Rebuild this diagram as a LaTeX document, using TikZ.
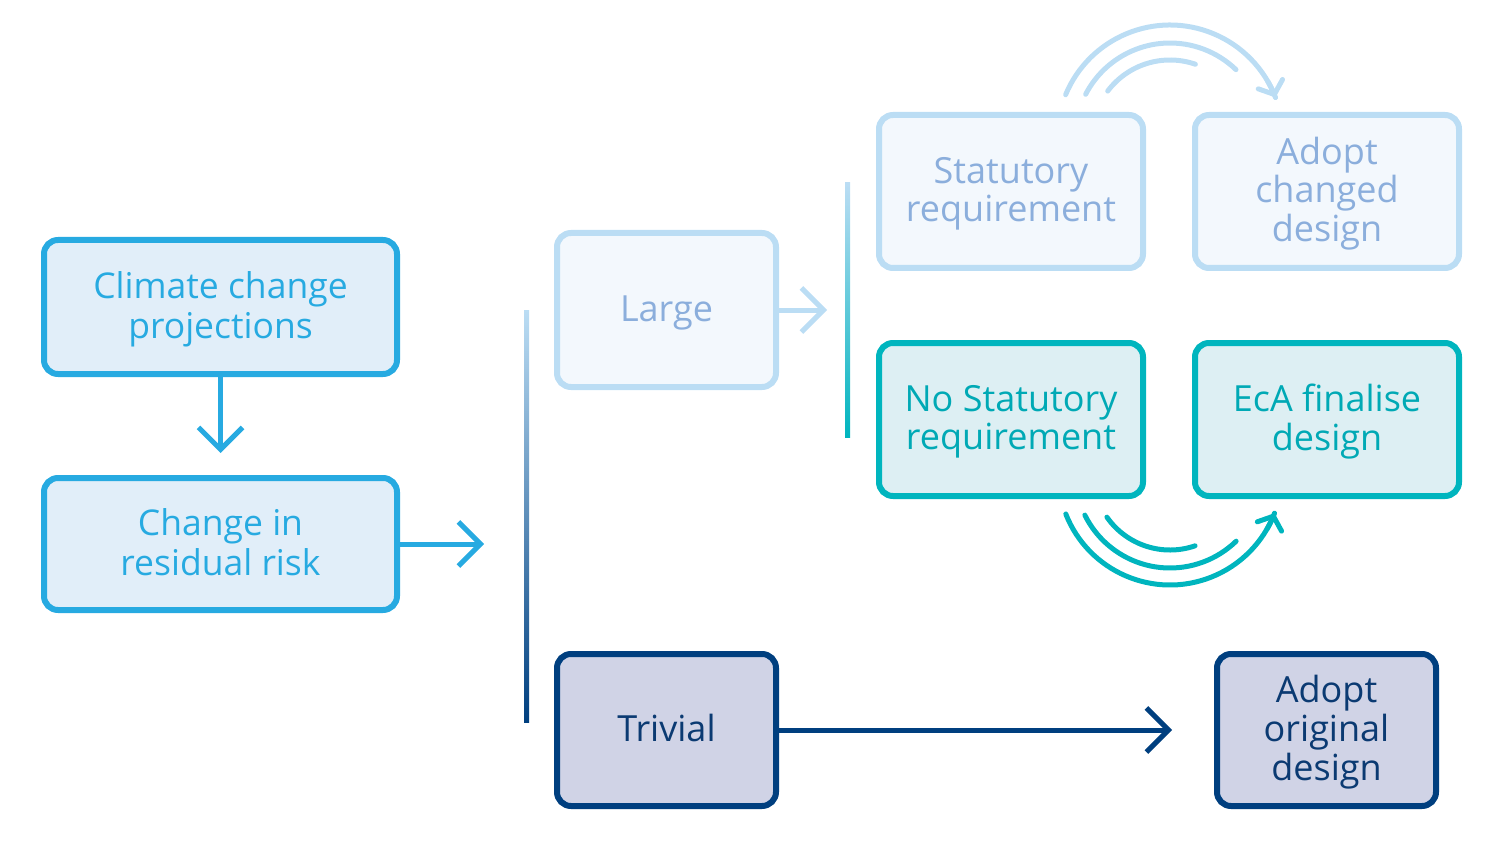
\documentclass[tikz,border=0pt]{standalone}
\usepackage{fontspec}
\setmainfont{Open Sans}
\usetikzlibrary{arrows.meta}
\definecolor{cyanB}{HTML}{27AAE1}
\definecolor{cyanF}{HTML}{E1EEF9}
\definecolor{lightB}{HTML}{BBDDF4}
\definecolor{lightF}{HTML}{F3F8FD}
\definecolor{lightT}{HTML}{8BAEDC}
\definecolor{tealB}{HTML}{00B5BE}
\definecolor{tealF}{HTML}{DDEFF3}
\definecolor{tealT}{HTML}{00A9B5}
\definecolor{navyB}{HTML}{003F7F}
\definecolor{navyF}{HTML}{D0D3E6}
\definecolor{navyT}{HTML}{0B3A72}
\definecolor{midB}{HTML}{8FB0D8}
\newcommand{\boxtext}[1]{\raisebox{-3.5pt}[\height][\depth]{\begin{tabular}{@{}c@{}}#1\end{tabular}}}
\begin{document}
\begin{tikzpicture}[x=1pt,y=-1pt,
  box/.style={rounded corners=14pt, line width=6pt, inner sep=0pt,
    font=\fontsize{36}{38}\selectfont},
  cyanbox/.style={box, draw=cyanB, fill=cyanF, text=cyanB, minimum width=353pt,
    font=\fontsize{35.5}{40}\selectfont},
  lightbox/.style={box, draw=lightB, fill=lightF, text=lightT},
  tealbox/.style={box, draw=tealB, fill=tealF, text=tealT, minimum width=264pt, minimum height=153pt},
  navybox/.style={box, draw=navyB, fill=navyF, text=navyT, minimum width=219pt, minimum height=152pt},
  arr/.style={line width=5pt, -{Straight Barb[length=22pt, width=44pt]}},
  arcline/.style={line width=5pt, line cap=round},
  arcarr/.style={arcline, -{Straight Barb[length=11pt, width=26pt, line cap=round]}}
]
\useasboundingbox (0,0) rectangle (1500,845);

% nodes
\node[cyanbox, minimum height=134pt] (climate) at (220.5,307) {\boxtext{Climate change\\projections}};
\node[cyanbox, minimum height=132pt] (change) at (220.5,544) {\boxtext{Change in\\residual risk}};
\node[lightbox, minimum width=219pt, minimum height=154pt] (large) at (666.5,310) {\boxtext{Large}};
\node[lightbox, minimum width=264pt, minimum height=153pt] (stat) at (1011,191.5) {\boxtext{Statutory\\requirement}};
\node[lightbox, minimum width=264pt, minimum height=153pt] (adoptc) at (1327,191.5) {\boxtext{Adopt\\changed\\design}};
\node[tealbox] (nostat) at (1011,419.5) {\boxtext{No Statutory\\requirement}};
\node[tealbox] (eca) at (1327,419.5) {\boxtext{EcA finalise\\design}};
\node[navybox] (trivial) at (666.5,730) {\boxtext{Trivial}};
\node[navybox] (adopto) at (1326.5,730) {\boxtext{Adopt\\original\\design}};

% arrow end points
\coordinate (t1) at (220.5,453);
\coordinate (t2) at (484,544);
\coordinate (t3) at (827,310);
\coordinate (t4) at (1172,730);

\draw[arr, cyanB] (climate.south) -- (t1);
\draw[arr, cyanB] (change.east) -- (t2);
\draw[arr, lightB] (large.east) -- (t3);
\draw[arr, navyB] (trivial.east) -- (t4);

% gradient bars
\shade[bottom color=navyB, middle color=midB, top color=lightB] (524,310) rectangle (529,722);
\shade[bottom color=tealB, top color=lightB] (845,183) rectangle (850,437);

% top arcs
\coordinate (ct) at (1170,138);
\draw[arcline, lightB] (ct) ++(-157.5:113) arc[start angle=-157.5, end angle=-21, radius=113];
\draw[arcline, lightB] (ct) ++(-152.6:95) arc[start angle=-152.6, end angle=-46, radius=95];
\draw[arcline, lightB] (ct) ++(-143:78) arc[start angle=-143, end angle=-71, radius=78];
\draw[arcarr, lightB] (ct) ++(-30:113) arc[start angle=-30, end angle=-21, radius=113];

% bottom arcs
\coordinate (cb) at (1170,473);
\draw[arcline, tealB] (cb) ++(158.5:112) arc[start angle=158.5, end angle=21, radius=112];
\draw[arcline, tealB] (cb) ++(153.7:95) arc[start angle=153.7, end angle=45.9, radius=95];
\draw[arcline, tealB] (cb) ++(145:77) arc[start angle=145, end angle=71, radius=77];
\draw[arcarr, tealB] (cb) ++(30:112) arc[start angle=30, end angle=21, radius=112];
\end{tikzpicture}
\end{document}
